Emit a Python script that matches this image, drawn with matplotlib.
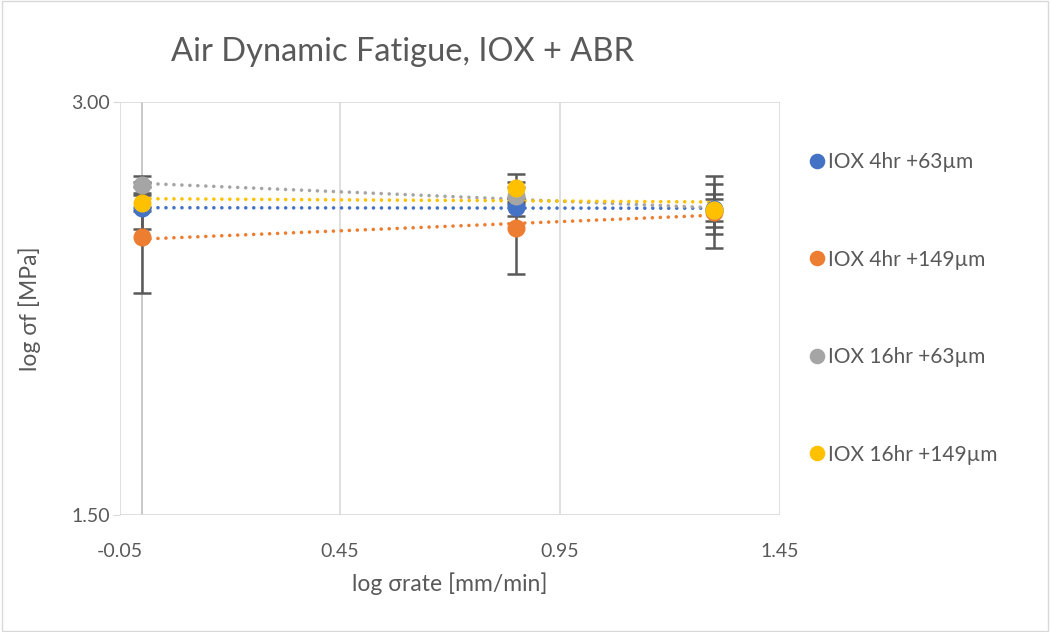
import numpy as np
import matplotlib.pyplot as plt

plt.rcParams['font.family'] = ['Lato', 'DejaVu Sans']

rate = [0.0, 0.85, 1.30]
series = ["IOX 4hr +63µm", "IOX 4hr +149µm", "IOX 16hr +63µm", "IOX 16hr +149µm"]
colors = ["#4472C4", "#ED7D31", "#A5A5A5", "#FFC000"]
stress = [
    [2.615, 2.618, 2.612],
    [2.508, 2.542, 2.600],
    [2.700, 2.660, 2.607],
    [2.633, 2.687, 2.607],
]
errors = [
    [0.075, 0.033, 0.09],
    [0.20, 0.167, 0.13],
    [0.03, 0.03, 0.06],
    [0.03, 0.05, 0.04],
]

fig = plt.figure(figsize=(10.5, 6.32), dpi=100)
ax = fig.add_axes([0.1143, 0.1851, 0.6286, 0.6535])
grey_txt = "#595959"

for name, c, y, e in zip(series, colors, stress, errors):
    ax.errorbar(rate, y, yerr=e, fmt='none', ecolor="#595959", elinewidth=1.8,
                capsize=6.5, capthick=1.8, zorder=3)
    k, b = np.polyfit(rate, y, 1)
    xx = np.array([rate[0], rate[-1]])
    ax.plot(xx, k * xx + b, color=c, lw=2.6, linestyle=(0, (0.01, 2.2)),
            dash_capstyle='round', zorder=2)
    ax.plot(rate, y, 'o', color=c, markersize=12, label=name, zorder=4)

ax.set_xlim(-0.05, 1.45)
ax.set_ylim(1.5, 3.0)
ax.set_xticks([-0.05, 0.45, 0.95, 1.45])
ax.set_xticklabels(["-0.05", "0.45", "0.95", "1.45"])
ax.set_yticks([1.5, 3.0])
ax.set_yticklabels(["1.50", "3.00"])
ax.grid(True, color="#d9d9d9", lw=1.2, zorder=0)
ax.axvline(0, color="#bfbfbf", lw=1.2, zorder=1)
for s in ax.spines.values():
    s.set_visible(False)
ax.tick_params(axis='both', length=0, labelsize=14, colors=grey_txt)
ax.tick_params(axis='x', pad=20)
ax.tick_params(axis='y', length=5, color="#d9d9d9", pad=2)

ax.set_xlabel("log σrate [mm/min]", fontsize=16.5, color=grey_txt, labelpad=9)
ax.set_ylabel("log σf [MPa]", fontsize=16.5, color=grey_txt, labelpad=22)
fig.text(0.383, 0.918, "Air Dynamic Fatigue, IOX + ABR", fontsize=23.5,
         color=grey_txt, ha='center', va='center')

leg = fig.legend(loc='upper left', bbox_to_anchor=(0.75, 0.789), frameon=False,
                 fontsize=15, labelspacing=3.72, handletextpad=0.05,
                 handlelength=1.0, markerscale=0.85)
for t in leg.get_texts():
    t.set_color(grey_txt)

border = plt.Rectangle((0.002, 0.002), 0.996, 0.996, transform=fig.transFigure,
                       fill=False, edgecolor="#d9d9d9", lw=1)
fig.patches.append(border)

fig.savefig("out.png", dpi=100)
